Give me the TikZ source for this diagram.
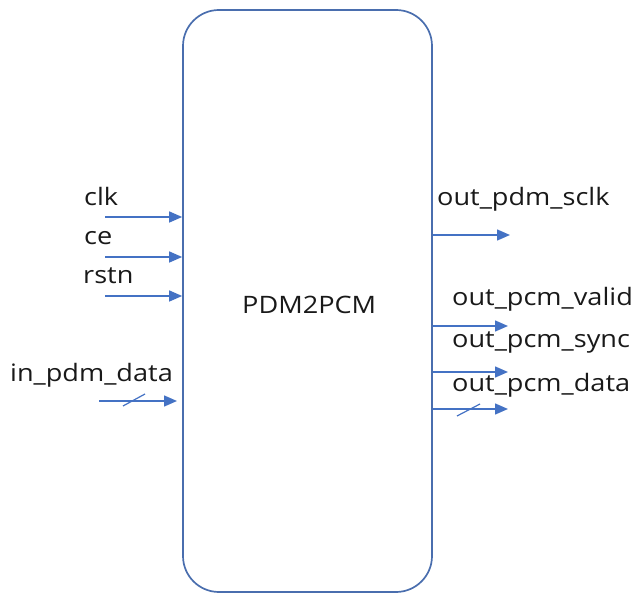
\documentclass[tikz,border=0pt]{standalone}
\usepackage{fontspec}
\setmainfont{Open Sans}[FakeStretch=1.13]
\usetikzlibrary{arrows.meta,calc}
\definecolor{sig}{HTML}{4472C4}
\definecolor{edge}{HTML}{4A6EAE}

\begin{document}
\begin{tikzpicture}[x=1pt,y=-1pt,
		s/.style={sig,line width=1.5pt,-{Triangle[length=13pt,width=11pt]}},
		bus/.style={sig,line width=1.2pt},
		lbl/.style={font=\fontsize{24}{26}\selectfont,text=black!90,inner sep=0pt,anchor=base west}]
	\useasboundingbox (0,0) rectangle (635,593);
	\node[draw=edge,line width=1.7pt,rounded corners=36pt,minimum width=249pt,minimum height=582pt,inner sep=0pt] (blk) at (307.5,301) {};
	\node[lbl] (name) at (242,314) {PDM2PCM};
	% inputs
	\coordinate (clk) at (105,217);
	\coordinate (ce) at (105,257);
	\coordinate (rstn) at (105,296);
	\coordinate (din) at (99,401);
	\coordinate (dinE) at (177,401);
	\node[lbl] (lclk) at (84,206) {clk};
	\node[lbl] (lce) at (84,245) {ce};
	\node[lbl] (lrstn) at (83,284) {rstn};
	\node[lbl] (ldin) at (10,382) {in\_pdm\_data};
	\draw[s] (clk) -- (clk -| blk.west);
	\draw[s] (ce) -- (ce -| blk.west);
	\draw[s] (rstn) -- (rstn -| blk.west);
	\draw[s] (din) -- (dinE);
	\draw[bus] ($(din)+(24,5)$) -- ++(22,-12);
	% outputs
	\coordinate (sclk) at (510,235);
	\coordinate (valid) at (508,326);
	\coordinate (sync) at (508,372);
	\coordinate (dout) at (508,409);
	\node[lbl] (lsclk) at (437,206) {out\_pdm\_sclk};
	\node[lbl] (lvalid) at (452,306) {out\_pcm\_valid};
	\node[lbl] (lsync) at (452,348) {out\_pcm\_sync};
	\node[lbl] (ldout) at (452,392) {out\_pcm\_data};
	\draw[s] (sclk -| blk.east) -- (sclk);
	\draw[s] (valid -| blk.east) -- (valid);
	\draw[s] (sync -| blk.east) -- (sync);
	\draw[s] (dout -| blk.east) -- (dout);
	\draw[bus] ($(dout)+(-51,7)$) -- ++(23,-12);
\end{tikzpicture}
\end{document}
